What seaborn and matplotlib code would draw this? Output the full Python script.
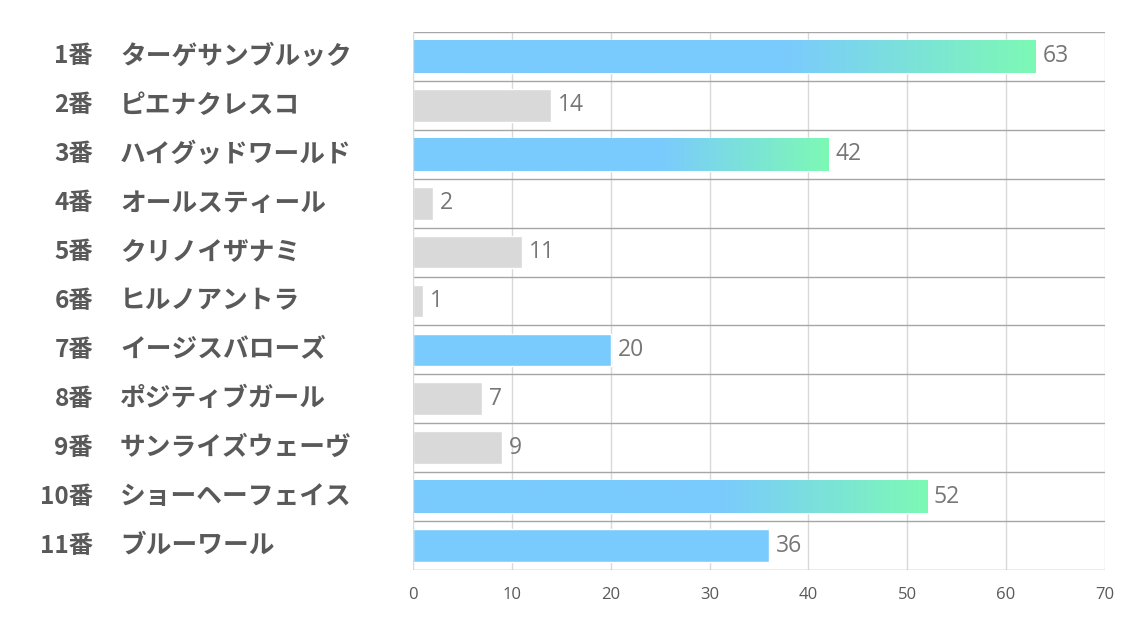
import matplotlib
matplotlib.use("Agg")
import matplotlib.pyplot as plt
import matplotlib.colors as mcolors
import seaborn as sns
import numpy as np
import pandas as pd

# data
numbers = ['1番', '2番', '3番', '4番', '5番', '6番', '7番', '8番', '9番', '10番', '11番']
names = ['ターゲサンブルック', 'ピエナクレスコ', 'ハイグッドワールド', 'オールスティール',
         'クリノイザナミ', 'ヒルノアントラ', 'イージスバローズ', 'ポジティブガール',
         'サンライズウェーヴ', 'ショーヘーフェイス', 'ブルーワール']
votes = [63, 14, 42, 2, 11, 1, 20, 7, 9, 52, 36]
highlight = [True, False, True, False, False, False, True, False, False, True, True]
gradient = [True, False, True, False, False, False, False, False, False, True, False]

BLUE = '#7ACBFD'
GREEN = '#7DF9B5'
GREY = '#D9D9D9'

sns.set_style('white')
plt.rcParams['font.family'] = ['Noto Sans CJK JP', 'DejaVu Sans']

df = pd.DataFrame({'label': [f'{n}　{m}' for n, m in zip(numbers, names)],
                   'votes': votes})
colors = [BLUE if h else GREY for h in highlight]

fig = plt.figure(figsize=(11.34, 6.23), dpi=100)
ax = fig.add_axes([0.3642, 0.0851, 0.6102, 0.8635])

sns.barplot(data=df, x='votes', y='label', hue='label', palette=colors,
            legend=False, width=0.67, ax=ax, saturation=1, zorder=2)

ax.set_xlim(0, 70)
ax.set_ylim(len(votes) - 0.5, -0.5)
ax.set_xticks(range(0, 71, 10))
ax.set_xlabel('')
ax.set_ylabel('')
ax.tick_params(axis='x', labelsize=12, labelcolor='#595959', length=0, pad=12)
for t in ax.get_xticklabels():
    t.set_family(['Open Sans', 'DejaVu Sans'])
ax.set_yticks(range(len(votes)))
ax.set_yticklabels([])
ax.tick_params(axis='y', length=0)

# grid: light verticals, darker row separators
for x in range(10, 71, 10):
    ax.axvline(x, color='#D9D9D9', lw=1, zorder=1)
for y in np.arange(-0.5, len(votes), 1.0):
    ax.axhline(y, color='#A6A6A6', lw=1, zorder=1)
for side in ['top', 'right', 'left', 'bottom']:
    ax.spines[side].set_visible(False)
ax.axvline(0, color='#D9D9D9', lw=1, zorder=3)

# gradient fill on the top bars
cmap = mcolors.LinearSegmentedColormap.from_list(
    'bg', [(0, BLUE), (0.6, BLUE), (1, GREEN)])
grad = np.linspace(0, 1, 256).reshape(1, -1)
for patch, g in zip(ax.patches, gradient):
    if not g:
        continue
    x0, y0 = patch.get_x(), patch.get_y()
    w, h = patch.get_width(), patch.get_height()
    im = ax.imshow(grad, cmap=cmap, aspect='auto', extent=[x0, x0 + w, y0 + h, y0],
                   zorder=2.5, interpolation='bicubic')
    im.set_clip_path(patch)
ax.set_xlim(0, 70)
ax.set_ylim(len(votes) - 0.5, -0.5)

# value labels
for i, v in enumerate(votes):
    ax.text(v + 0.7, i, str(v), va='center', ha='left', fontsize=16.5,
            color='#767676', family=['Open Sans', 'DejaVu Sans'])

# two-part category labels
for i, (n, m) in enumerate(zip(numbers, names)):
    yfig = ax.transData.transform((0, i))[1]
    yf = fig.transFigure.inverted().transform((0, yfig))[1]
    fig.text(93 / 1134, yf, n, ha='right', va='center', fontsize=17.5,
             fontweight='bold', color='#595959')
    fig.text(120 / 1134, yf, m, ha='left', va='center', fontsize=18.5,
             fontweight='bold', color='#595959')

fig.savefig('out.png', dpi=100, facecolor='white')
